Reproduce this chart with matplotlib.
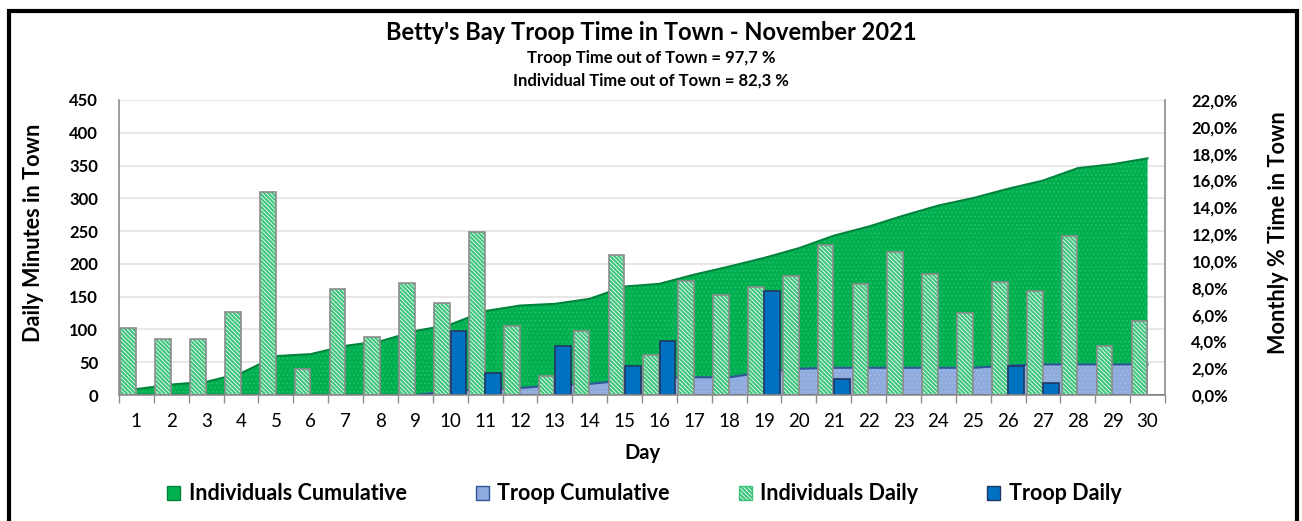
import numpy as np
import matplotlib
matplotlib.use("Agg")
from matplotlib import pyplot as plt
from matplotlib.patches import Patch, Rectangle

plt.rcParams['font.family'] = ['Lato', 'DejaVu Sans']

days = [str(d) for d in range(1, 31)]

# daily minutes in town
individuals_daily = [102, 86, 86, 127, 310, 40, 161, 89, 171, 141,
                     249, 106, 29, 98, 214, 61, 174, 152, 164, 181,
                     229, 170, 218, 184, 125, 172, 158, 242, 75, 113]
troop_daily = [0, 0, 0, 0, 0, 0, 0, 0, 0, 97,
               34, 0, 74, 0, 44, 83, 0, 0, 158, 0,
               25, 0, 0, 0, 0, 45, 19, 0, 0, 0]

# monthly % time in town (cumulative)
individuals_cum = [0.44, 0.78, 0.98, 1.62, 2.90, 3.05, 3.67, 4.01, 4.77, 5.25,
                   6.26, 6.67, 6.80, 7.17, 8.09, 8.29, 8.98, 9.58, 10.22, 10.95,
                   11.88, 12.56, 13.38, 14.13, 14.69, 15.38, 15.99, 16.92, 17.21, 17.65]
troop_cum = [0, 0, 0, 0, 0, 0, 0, 0, 0, 0.27,
             0.44, 0.52, 0.73, 0.83, 1.08, 1.27, 1.32, 1.32, 1.71, 1.96,
             2.03, 2.03, 2.03, 2.03, 2.03, 2.19, 2.28, 2.28, 2.28, 2.28]

left_ticks = list(range(0, 451, 50))
right_ticks = list(range(0, 23, 2))

GREEN = '#00B050'
GREEN_EDGE = '#00843D'
LBLUE = '#8FAADC'
LBLUE_EDGE = '#2E5597'
BLUE = '#0070C0'
BLUE_EDGE = '#1F3864'
HATCH_GREEN = '#3CC47C'
GREY = '#8C8C8C'
STRIPES = '\\' * 8

W, H = 1302, 521
fig = plt.figure(figsize=(W / 100, H / 100), dpi=100)
rect = [119 / W, 1 - 395 / H, (1165 - 119) / W, (395 - 100) / H]

ax = fig.add_axes(rect)    # grid + left axis
ax2 = ax.twinx()           # areas (percent)
ax3 = ax.twinx()           # bars

x = np.arange(len(days))

# --- base axis: grid, ticks
ax.set_xlim(-0.5, len(days) - 0.5)
ax.set_ylim(0, 450)
ax.set_yticks(left_ticks)
ax.grid(axis='y', color='#E3E3E3', lw=1.2)
ax.set_axisbelow(True)
ax.tick_params(axis='y', length=0, labelsize=12, pad=15)
for lbl in ax.get_yticklabels():
    lbl.set_fontweight('bold')
ax.set_xticks(x)
ax.set_xticklabels(days)
ax.set_xticks(np.arange(-0.5, len(days), 1), minor=True)
ax.tick_params(axis='x', which='major', length=0, labelsize=13.5, pad=13)
ax.tick_params(axis='x', which='minor', length=6, color=GREY, width=1)
for s in ax.spines.values():
    s.set_visible(False)

# --- areas
ax2.set_ylim(0, 22)
ax2.set_yticks(right_ticks)
ax2.set_yticklabels([f"{v:.1f}%".replace('.', ',') for v in right_ticks])
ax2.tick_params(axis='y', length=0, labelsize=12, pad=19)
for lbl in ax2.get_yticklabels():
    lbl.set_fontweight('bold')
for s in ax2.spines.values():
    s.set_visible(False)

plt.rcParams['hatch.linewidth'] = 0.6
ax2.fill_between(x, 0, individuals_cum, facecolor=GREEN, edgecolor='#2BC06B',
                 hatch='....', lw=0)
ax2.plot(x, individuals_cum, color=GREEN_EDGE, lw=1.5)
ax2.fill_between(x, 0, troop_cum, facecolor=LBLUE, edgecolor='#A3BAE3',
                 hatch='....', lw=0)
ax2.plot(x, troop_cum, color=LBLUE_EDGE, lw=1.5)

# --- bars
plt.rcParams['hatch.linewidth'] = 1.5
ax3.set_ylim(0, 450)
ax3.set_yticks([])
bw = 0.45
off = 0.235
ax3.bar(x - off, individuals_daily, bw, facecolor='#F4FCF7', edgecolor=HATCH_GREEN,
        hatch=STRIPES, lw=0)
ax3.bar(x - off, individuals_daily, bw, fill=False, edgecolor=GREY, lw=1.2)
ax3.bar(x + off, troop_daily, bw, facecolor=BLUE, edgecolor=BLUE_EDGE, lw=1.2)
for k, s in ax3.spines.items():
    s.set_color(GREY)
    s.set_linewidth(1.2)
ax3.spines['top'].set_visible(False)

# --- labels
ax.set_ylabel('Daily Minutes in Town', fontsize=15.6, fontweight='bold')
ax.yaxis.set_label_coords(-0.072, 0.55)
ax2.set_ylabel('Monthly % Time in Town', fontsize=15.6, fontweight='bold')
ax2.yaxis.set_label_coords(1.098, 0.55)
ax.set_xlabel('Day', fontsize=14.5, fontweight='bold', labelpad=9)

fig.text(0.5, 1 - 33 / H, "Betty's Bay Troop Time in Town - November 2021",
         ha='center', va='center', fontsize=17, fontweight='bold')
fig.text(0.5, 1 - 58 / H, "Troop Time out of Town = 97,7 %",
         ha='center', va='center', fontsize=12, fontweight='bold')
fig.text(0.5, 1 - 81 / H, "Individual Time out of Town = 82,3 %",
         ha='center', va='center', fontsize=12, fontweight='bold')

handles = [
    Patch(facecolor=GREEN, edgecolor=GREEN_EDGE, label='Individuals Cumulative'),
    Patch(facecolor=LBLUE, edgecolor=LBLUE_EDGE, label='Troop Cumulative'),
    Patch(facecolor='#F4FCF7', edgecolor=HATCH_GREEN, hatch=STRIPES, label='Individuals Daily'),
    Patch(facecolor=BLUE, edgecolor=BLUE_EDGE, label='Troop Daily'),
]
leg = fig.legend(handles=handles, loc='center', bbox_to_anchor=(0.495, 1 - 494 / H),
                 ncol=4, frameon=False, handlelength=0.6, handleheight=0.6,
                 handletextpad=0.4, columnspacing=3.2,
                 prop={'size': 15.5, 'weight': 'bold'})

# outer frame
fig.patches.append(Rectangle((9 / W, -0.05), (1297 - 9) / W, 1 - 11 / H + 0.05,
                             transform=fig.transFigure, fill=False,
                             edgecolor='black', lw=3))

fig.savefig('out.png', dpi=100)
